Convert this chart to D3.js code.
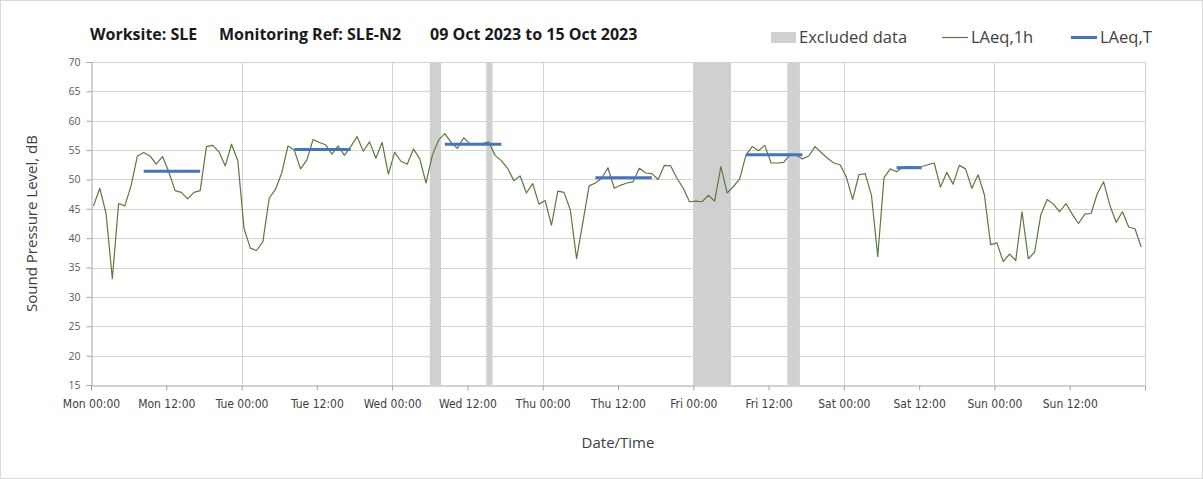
<!DOCTYPE html>
<html>
<head>
<meta charset="utf-8">
<script src="https://cdn.jsdelivr.net/npm/d3@7"></script>
<style>
  html, body { margin: 0; padding: 0; background: #fff; }
  svg { display: block; }
</style>
</head>
<body>
<svg id="chart" width="1203" height="479"></svg>
<script>
// ---------------- DATA ----------------
const titleParts = ["Worksite: SLE", "Monitoring Ref: SLE-N2", "09 Oct 2023 to 15 Oct 2023"];
const xTickLabels = ["Mon 00:00","Mon 12:00","Tue 00:00","Tue 12:00","Wed 00:00","Wed 12:00",
  "Thu 00:00","Thu 12:00","Fri 00:00","Fri 12:00","Sat 00:00","Sat 12:00","Sun 00:00","Sun 12:00"];
const yTicks = [15,20,25,30,35,40,45,50,55,60,65,70];
// hourly LAeq,1h values, Mon 00:00 to Sun 23:00 (168 hours)
const laeq1h = [
  45.5,48.5,44.2,33.1,45.9,45.5,49.0,54.0,54.6,54.0,52.6,53.9,51.3,48.1,47.8,46.7,47.8,48.1,55.6,55.8,54.7,52.3,56.0,53.2,
  41.6,38.3,37.9,39.4,46.8,48.3,51.1,55.7,55.0,51.8,53.3,56.8,56.3,55.9,54.3,55.7,54.1,55.6,57.3,54.8,56.4,53.6,56.3,50.9,
  54.6,53.1,52.6,55.2,53.5,49.4,54.1,56.7,57.8,56.3,55.3,57.1,56.1,56.0,56.1,56.4,54.1,53.2,51.9,49.8,50.6,47.7,49.3,45.8,
  46.4,42.2,48.0,47.8,44.8,36.5,42.7,48.9,49.4,50.2,52.0,48.5,49.0,49.4,49.6,51.9,51.1,51.0,50.0,52.4,52.3,50.2,48.5,46.2,
  46.3,46.2,47.3,46.3,52.2,47.7,48.8,50.1,54.2,55.6,54.9,55.8,52.8,52.8,52.9,54.2,54.2,53.5,54.0,55.6,54.6,53.6,52.8,52.5,
  50.4,46.6,50.8,51.0,47.3,36.9,50.3,51.8,51.3,52.1,52.2,52.1,52.2,52.5,52.8,48.7,51.2,49.2,52.4,51.8,48.5,50.8,47.4,38.9,
  39.2,36.0,37.3,36.2,44.5,36.5,37.6,44.0,46.6,45.8,44.5,45.9,44.1,42.5,44.1,44.2,47.6,49.6,45.6,42.7,44.5,41.9,41.6,38.5
];
// LAeq,T periods: start hour index, end hour index, level
const laeqTStart = [8, 32, 56, 80, 104, 128];
const laeqTEnd   = [17, 41, 65, 89, 113, 132];
const laeqTValue = [51.4, 55.1, 56.0, 50.3, 54.2, 52.0];
// excluded data periods (hours from Mon 00:00)
const excludedStart = [54, 63, 96, 111];
const excludedEnd   = [55.8, 64, 102, 113];
const legendLabels = ["Excluded data", "LAeq,1h", "LAeq,T"];

// ---------------- LAYOUT ----------------
const svg = d3.select("#chart");
const W = 1203, H = 479;
const plot = { left: 91, right: 1145, top: 62, bottom: 385 };
const pointOffset = 0.4;
const fontMain = "'Open Sans', 'Noto Sans', sans-serif";
const fontNarrow = "'Liberation Sans Narrow', 'DejaVu Sans Condensed', 'Roboto', sans-serif";

const x = d3.scaleLinear().domain([0, 168]).range([plot.left, plot.right]);
const y = d3.scaleLinear().domain([15, 70]).range([plot.bottom, plot.top]);

// outer border
svg.append("rect").attr("x", 0.5).attr("y", 0.5).attr("width", W - 1).attr("height", H - 1)
  .attr("fill", "#fff").attr("stroke", "#d9d9d9");

// excluded bands
svg.append("g").selectAll("rect").data(excludedStart).join("rect")
  .attr("x", (d) => x(d))
  .attr("width", (d, i) => x(excludedEnd[i]) - x(d))
  .attr("y", y(70)).attr("height", y(15) - y(70))
  .attr("fill", "#d0d0d0");

// horizontal gridlines
svg.append("g").selectAll("line").data(yTicks.filter(v => v > 15)).join("line")
  .attr("x1", plot.left).attr("x2", plot.right)
  .attr("y1", d => Math.round(y(d)) + 0.5).attr("y2", d => Math.round(y(d)) + 0.5)
  .attr("stroke", "#d4d4d4").attr("stroke-width", 1);

// vertical gridlines every day
svg.append("g").selectAll("line").data(d3.range(24, 169, 24)).join("line")
  .attr("x1", d => Math.round(x(d)) + 0.5).attr("x2", d => Math.round(x(d)) + 0.5)
  .attr("y1", plot.top).attr("y2", plot.bottom)
  .attr("stroke", "#d4d4d4").attr("stroke-width", 1);

// y axis
const yAxis = d3.axisLeft(y).tickValues(yTicks).tickSize(5).tickPadding(6).tickFormat(d3.format("d"));
const gy = svg.append("g").attr("transform", `translate(${plot.left + 0.5},0)`).call(yAxis);
gy.select(".domain").attr("stroke", "#a6a6a6");
gy.selectAll(".tick line").attr("stroke", "#a6a6a6");
gy.selectAll(".tick text").attr("fill", "#595959").style("font-family", fontMain).style("font-size", "10.5px");

// x axis
const xAxis = d3.axisBottom(x).tickValues(d3.range(0, 168, 12)).tickSize(5).tickPadding(9)
  .tickFormat((d, i) => xTickLabels[i]);
const gx = svg.append("g").attr("transform", `translate(0,${plot.bottom + 0.5})`).call(xAxis);
gx.select(".domain").attr("stroke", "#a6a6a6");
gx.selectAll(".tick line").attr("stroke", "#a6a6a6");
gx.selectAll(".tick text").attr("fill", "#404040").style("font-family", fontNarrow).style("font-size", "12px");

// LAeq,1h line
const line = d3.line().x((d, i) => x(i + pointOffset)).y(d => y(d));
svg.append("path").datum(laeq1h)
  .attr("d", line).attr("fill", "none")
  .attr("stroke", "#5b7a3c").attr("stroke-width", 1.2).attr("stroke-linejoin", "round");

// LAeq,T segments
svg.append("g").selectAll("line").data(laeqTValue).join("line")
  .attr("x1", (d, i) => x(laeqTStart[i] + pointOffset))
  .attr("x2", (d, i) => x(laeqTEnd[i] + pointOffset))
  .attr("y1", d => y(d)).attr("y2", d => y(d))
  .attr("stroke", "#4472c4").attr("stroke-width", 3);

// title
const titleX = [90, 219, 430];
svg.append("g").selectAll("text").data(titleParts).join("text")
  .attr("x", (d, i) => titleX[i]).attr("y", 40)
  .attr("fill", "#1a1a1a")
  .style("font-family", fontMain).style("font-weight", "bold").style("font-size", "16px")
  .text(d => d);

// legend
const lg = svg.append("g").style("font-family", fontMain).style("font-size", "16.5px").attr("fill", "#404040");
lg.append("rect").attr("x", 771).attr("y", 32).attr("width", 25).attr("height", 11).attr("fill", "#d0d0d0");
lg.append("text").attr("x", 799).attr("y", 43).text(legendLabels[0]);
lg.append("line").attr("x1", 942).attr("x2", 968).attr("y1", 37.5).attr("y2", 37.5).attr("stroke", "#5b7a3c").attr("stroke-width", 1.2);
lg.append("text").attr("x", 971).attr("y", 43).text(legendLabels[1]);
lg.append("line").attr("x1", 1071).attr("x2", 1097).attr("y1", 37.5).attr("y2", 37.5).attr("stroke", "#4472c4").attr("stroke-width", 3);
lg.append("text").attr("x", 1100).attr("y", 43).text(legendLabels[2]);

// axis titles
svg.append("text").attr("x", (plot.left + plot.right) / 2).attr("y", 448)
  .attr("text-anchor", "middle").attr("fill", "#404040")
  .style("font-family", fontMain).style("font-size", "15px").text("Date/Time");
svg.append("text").attr("transform", `translate(37,${(plot.top + plot.bottom) / 2}) rotate(-90)`)
  .attr("text-anchor", "middle").attr("fill", "#404040")
  .style("font-family", fontMain).style("font-size", "15px").text("Sound Pressure Level, dB");
</script>
</body>
</html>
